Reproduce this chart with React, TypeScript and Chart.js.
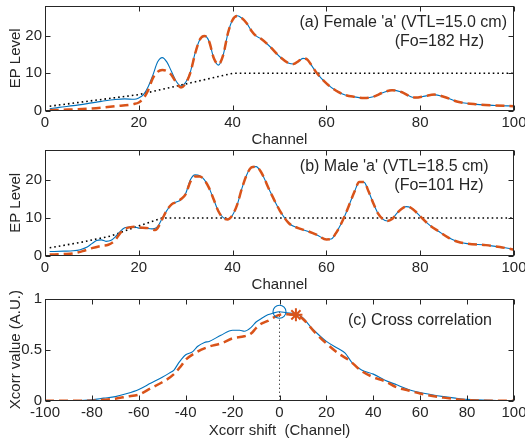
import React, { useEffect, useRef } from 'react';
import { Chart, registerables } from 'chart.js';

Chart.register(...registerables);

const FONT_FAMILY = '"Liberation Sans", Arial, Helvetica, sans-serif';
const INK = '#262626';
const BLUE = '#0072BD';
const ORANGE = '#D95319';

// ---------- Panel (a) Female 'a' ----------
const aSolidCh = [1, 3, 6, 9, 12, 15, 17, 19, 20, 21, 22, 23, 24, 25, 26, 27, 28, 29, 30, 31, 32, 33, 34, 35, 36, 37, 38, 39, 40, 41, 42, 43, 44, 45, 46, 48, 50, 52, 53, 54, 55, 56, 57, 58, 60, 62, 64, 66, 68, 70, 72, 74, 76, 78, 79, 81, 83, 85, 88, 92, 96, 100];
const aSolidVal = [0.5, 0.9, 1.35, 1.9, 2.5, 3.0, 3.15, 3.05, 3.4, 4.3, 6.4, 9.5, 13, 14.2, 13, 10.4, 7.8, 6.6, 7.6, 10.4, 15.4, 19, 20, 18.5, 14, 12.2, 14.9, 20.7, 24.3, 25.4, 24.7, 23.4, 21.4, 20, 19.3, 17.1, 14.5, 12.7, 12.5, 13.2, 14, 13.6, 11.8, 10, 7.3, 5.4, 4.2, 3.7, 3.4, 3.75, 4.8, 5.5, 5.0, 3.75, 3.5, 3.9, 4.3, 3.75, 2.4, 1.7, 1.4, 1.25];
const aDashCh = [1, 5, 10, 15, 19, 20, 21, 22, 23, 24, 25, 26, 27, 28, 29, 30, 31, 32, 33, 34, 35, 36, 37, 38, 39, 40, 41, 42, 43, 44, 45, 46, 48, 50, 52, 53, 54, 55, 56, 57, 58, 60, 62, 64, 66, 68, 70, 72, 74, 76, 78, 79, 81, 83, 85, 88, 92, 96, 100];
const aDashVal = [0.1, 0.3, 0.6, 1.2, 1.8, 2.2, 3.3, 5.5, 8.7, 10.4, 10.9, 10.6, 9.5, 7.5, 6.2, 7.3, 10.2, 15.2, 19, 20, 18.5, 14, 12.4, 14.9, 20.7, 24.3, 25.3, 24.7, 23.4, 21.4, 20, 19.3, 17.1, 14.5, 12.7, 12.5, 13.2, 14, 13.6, 11.8, 10, 7.3, 5.4, 4.2, 3.7, 3.4, 3.75, 4.8, 5.5, 5.0, 3.75, 3.5, 3.9, 4.3, 3.75, 2.4, 1.7, 1.4, 1.2];
const aDotCh = [1, 20, 40, 100];
const aDotVal = [1.2, 4.3, 10, 10];

// ---------- Panel (b) Male 'a' ----------
const bSolidCh = [1, 4, 6, 7.5, 9, 10, 11, 12, 13, 14, 15, 16, 17, 18, 19, 20, 22, 23, 24, 25, 26, 27, 28, 29, 30, 31, 32, 33, 34, 35, 36, 37, 38, 39, 40, 41, 42, 43, 44, 45, 46, 48, 50, 52, 54, 56, 58, 60, 61, 62, 63, 64, 65, 66, 67, 68, 69, 70, 71, 72, 73, 74, 75, 76, 77, 78, 79, 80, 82, 84, 86, 88, 90, 94, 97, 100];
const bSolidVal = [1.1, 1.2, 1.3, 1.6, 2.3, 3.2, 4.0, 4.2, 3.8, 4.0, 5.0, 6.4, 7.4, 7.6, 7.6, 7.3, 7.2, 7.1, 7.7, 9.9, 12.0, 13.7, 14.2, 14.8, 16.5, 20.1, 21.4, 21.2, 20.1, 17.9, 14.8, 11.7, 10.1, 9.7, 10.8, 13.6, 17.9, 21.4, 23.4, 23.6, 22.3, 17, 12.1, 8.6, 7.3, 6.5, 5.5, 4.3, 4.4, 5.9, 8.1, 10.8, 13.9, 17, 19.5, 19.5, 17, 13.9, 11.2, 9.7, 9.2, 9.7, 11.2, 12.4, 13, 12.7, 11.7, 10.4, 8.1, 6.4, 4.8, 3.7, 3.2, 2.8, 2.3, 1.7];
const bDashCh = [1, 4, 6, 8, 10, 12, 13.5, 14.5, 15, 16, 17, 18, 19, 20, 22, 23, 23.5, 24, 25, 26, 27, 28, 29, 30, 31, 32, 33, 34, 35, 36, 37, 38, 39, 40, 41, 42, 43, 44, 45, 46, 48, 50, 52, 54, 56, 58, 60, 61, 62, 63, 64, 65, 66, 67, 68, 69, 70, 71, 72, 73, 74, 75, 76, 77, 78, 79, 80, 82, 84, 86, 88, 90, 94, 97, 100];
const bDashVal = [0.3, 0.45, 0.6, 1.2, 2.0, 2.6, 2.9, 3.6, 4.2, 5.9, 7.1, 7.5, 7.7, 7.5, 7.3, 6.9, 6.8, 7.3, 9.7, 12.1, 13.6, 14.2, 15.0, 16.3, 19.6, 21.0, 21.0, 20.0, 17.9, 14.8, 11.7, 10.0, 9.6, 10.8, 13.6, 17.9, 21.4, 23.4, 23.6, 22.3, 17, 12.1, 8.6, 7.3, 6.5, 5.5, 4.3, 4.4, 5.9, 8.1, 10.8, 13.9, 17, 19.5, 19.5, 17, 13.9, 11.2, 9.7, 9.2, 9.7, 11.2, 12.4, 13, 12.7, 11.7, 10.4, 8.1, 6.4, 4.8, 3.7, 3.2, 2.8, 2.3, 1.6];
const bDotCh = [1, 7.5, 14, 20, 25, 100];
const bDotVal = [2.1, 3.5, 5.2, 7.9, 10, 10];

// ---------- Panel (c) Cross correlation ----------
const cSolidShift = [-100, -90, -80, -75, -70, -65, -60, -55, -50, -47, -45, -43, -42, -40, -37, -35, -32, -30, -25, -20, -17, -15, -12, -10, -8, -5, -3, 0, 3, 6, 8, 10, 13, 16, 20, 25, 28, 31, 35, 40, 45, 50, 55, 60, 65, 70, 75, 80, 90, 100];
const cSolidVal = [0, 0, 0.01, 0.025, 0.04, 0.07, 0.11, 0.17, 0.23, 0.27, 0.3, 0.37, 0.4, 0.45, 0.48, 0.53, 0.57, 0.58, 0.64, 0.69, 0.69, 0.68, 0.72, 0.77, 0.8, 0.84, 0.855, 0.87, 0.86, 0.855, 0.84, 0.81, 0.73, 0.66, 0.58, 0.51, 0.465, 0.37, 0.3, 0.26, 0.2, 0.155, 0.11, 0.08, 0.058, 0.04, 0.025, 0.013, 0.003, 0];
const cDashShift = [-100, -80, -75, -70, -65, -60, -55, -50, -45, -42, -40, -35, -30, -25, -20, -15, -12, -10, -8, -5, -2, 0, 3, 7, 10, 15, 20, 25, 30, 35, 40, 45, 50, 55, 60, 70, 80, 90, 100];
const cDashVal = [0, 0, 0.01, 0.02, 0.04, 0.06, 0.12, 0.18, 0.26, 0.34, 0.4, 0.48, 0.53, 0.56, 0.61, 0.63, 0.66, 0.71, 0.75, 0.78, 0.82, 0.84, 0.845, 0.84, 0.8, 0.67, 0.56, 0.465, 0.39, 0.29, 0.23, 0.19, 0.13, 0.1, 0.07, 0.03, 0.006, 0, 0];
const cPeakSolid = { x: 0, y: 0.87 };
const cPeakDash = { x: 7, y: 0.84 };

// ---------- Ticks / labels ----------
const channelTicks = [0, 20, 40, 60, 80, 100];
const epTicks = [0, 10, 20];
const shiftTicks = [-100, -80, -60, -40, -20, 0, 20, 40, 60, 80, 100];
const xcorrTicks = [0, 0.5, 1];

const zip = (xs: number[], ys: number[]) => xs.map((x, i) => ({ x, y: ys[i] }));

type Txt = { text: string; dx: number; dy: number };

function makeFrame(xTicks: number[], yTicks: number[], texts: Txt[]) {
  return {
    id: 'matlabFrame',
    afterDraw(chart: any) {
      const { ctx, chartArea: a, scales } = chart;
      ctx.save();
      ctx.strokeStyle = INK;
      ctx.lineWidth = 1;
      const L = Math.round(a.left) + 0.5;
      const R = Math.round(a.right) - 0.5;
      const T = Math.round(a.top) + 0.5;
      const B = Math.round(a.bottom) - 0.5;
      ctx.strokeRect(L, T, R - L, B - T);
      ctx.beginPath();
      for (const v of xTicks) {
        const p = Math.round(scales.x.getPixelForValue(v)) + 0.5;
        ctx.moveTo(p, B); ctx.lineTo(p, B - 5);
        ctx.moveTo(p, T); ctx.lineTo(p, T + 5);
      }
      for (const v of yTicks) {
        const p = Math.round(scales.y.getPixelForValue(v)) + 0.5;
        ctx.moveTo(L, p); ctx.lineTo(L + 5, p);
        ctx.moveTo(R, p); ctx.lineTo(R - 5, p);
      }
      ctx.stroke();
      ctx.fillStyle = INK;
      ctx.font = `16px ${FONT_FAMILY}`;
      ctx.textAlign = 'right';
      ctx.textBaseline = 'middle';
      for (const t of texts) ctx.fillText(t.text, a.right - t.dx, a.top + t.dy);
      ctx.restore();
    },
  };
}

const tickFont = { family: FONT_FAMILY, size: 15 };

function buildConfig(o: {
  datasets: any[]; xMin: number; xMax: number; yMin: number; yMax: number;
  xTicks: number[]; yTicks: number[]; xTitle: string; yTitle: string;
  padTop: number; xAxisH: number; xTickPad: number; xTitlePadB: number; texts: Txt[];
}) {
  return {
    type: 'line',
    data: { datasets: o.datasets },
    options: {
      responsive: false,
      animation: false,
      events: [],
      layout: { padding: { top: o.padTop, right: 11, left: 0, bottom: 0 } },
      plugins: { legend: { display: false }, tooltip: { enabled: false } },
      scales: {
        x: {
          type: 'linear', min: o.xMin, max: o.xMax,
          afterBuildTicks: (s: any) => { s.ticks = o.xTicks.map((v) => ({ value: v })); },
          afterFit: (s: any) => { s.height = o.xAxisH; s.paddingLeft = 0; s.paddingRight = 0; },
          grid: { display: false, drawTicks: false },
          border: { display: false },
          ticks: { font: tickFont, color: INK, padding: o.xTickPad, maxRotation: 0, autoSkip: false, callback: (v: any) => String(v) },
          title: { display: true, text: o.xTitle, color: INK, font: tickFont, padding: { top: 0, bottom: o.xTitlePadB } },
        },
        y: {
          type: 'linear', min: o.yMin, max: o.yMax,
          afterBuildTicks: (s: any) => { s.ticks = o.yTicks.map((v) => ({ value: v })); },
          afterFit: (s: any) => { s.width = 45; s.paddingTop = 0; s.paddingBottom = 0; },
          grid: { display: false, drawTicks: false },
          border: { display: false },
          ticks: { font: tickFont, color: INK, padding: 3, autoSkip: false, callback: (v: any) => String(v) },
          title: { display: true, text: o.yTitle, color: INK, font: tickFont, padding: { top: 6.5, bottom: 0 } },
        },
      },
    },
    plugins: [makeFrame(o.xTicks, o.yTicks, o.texts)],
  };
}

const lineBase = { pointRadius: 0, fill: false, cubicInterpolationMode: 'monotone' };

function epDatasets(dash: any[], solid: any[], dot: any[]) {
  return [
    { ...lineBase, data: dash, borderColor: ORANGE, borderWidth: 2.5, borderDash: [9, 5] },
    { ...lineBase, data: solid, borderColor: BLUE, borderWidth: 1.1 },
    { ...lineBase, data: dot, borderColor: '#000000', borderWidth: 1.6, borderDash: [1.6, 3], cubicInterpolationMode: 'default', tension: 0 },
  ];
}

const configA = buildConfig({
  datasets: epDatasets(zip(aDashCh, aDashVal), zip(aSolidCh, aSolidVal), zip(aDotCh, aDotVal)),
  xMin: 0, xMax: 100, yMin: 0, yMax: 28, xTicks: channelTicks, yTicks: epTicks,
  xTitle: 'Channel', yTitle: 'EP Level', padTop: 6, xAxisH: 39.3, xTickPad: 3, xTitlePadB: 1.5,
  texts: [
    { text: "(a) Female 'a' (VTL=15.0 cm)", dx: 7, dy: 16.7 },
    { text: '(Fo=182 Hz)', dx: 30, dy: 35.7 },
  ],
});

const configB = buildConfig({
  datasets: epDatasets(zip(bDashCh, bDashVal), zip(bSolidCh, bSolidVal), zip(bDotCh, bDotVal)),
  xMin: 0, xMax: 100, yMin: 0, yMax: 28, xTicks: channelTicks, yTicks: epTicks,
  xTitle: 'Channel', yTitle: 'EP Level', padTop: 5, xAxisH: 39.3, xTickPad: 3, xTitlePadB: 1.5,
  texts: [
    { text: "(b) Male 'a' (VTL=18.5 cm)", dx: 25.3, dy: 16.7 },
    { text: '(Fo=101 Hz)', dx: 30.3, dy: 35.7 },
  ],
});

const configC = buildConfig({
  datasets: [
    { data: [cPeakSolid], showLine: false, pointStyle: 'circle', pointRadius: 6.5, pointBorderColor: BLUE, pointBackgroundColor: 'rgba(0,0,0,0)', pointBorderWidth: 1.1 },
    { data: [cPeakDash], showLine: false, pointStyle: 'star', pointRadius: 6.5, pointBorderColor: ORANGE, pointBackgroundColor: ORANGE, pointBorderWidth: 2 },
    { ...lineBase, data: zip(cDashShift, cDashVal), borderColor: ORANGE, borderWidth: 2.5, borderDash: [9, 5] },
    { ...lineBase, data: zip(cSolidShift, cSolidVal), borderColor: BLUE, borderWidth: 1.1 },
    { ...lineBase, data: [{ x: cPeakSolid.x, y: 0 }, cPeakSolid], borderColor: '#000000', borderWidth: 1, borderDash: [1, 3], cubicInterpolationMode: 'default', tension: 0 },
  ],
  xMin: -100, xMax: 100, yMin: 0, yMax: 1, xTicks: shiftTicks, yTicks: xcorrTicks,
  xTitle: 'Xcorr shift  (Channel)', yTitle: 'Xcorr value (A.U.)', padTop: 5, xAxisH: 40.3, xTickPad: 3.6, xTitlePadB: 1.5,
  texts: [{ text: '(c) Cross correlation', dx: 22, dy: 22.3 }],
});

function Panel({ top, height, config }: { top: number; height: number; config: any }) {
  const ref = useRef<HTMLCanvasElement>(null);
  useEffect(() => {
    const chart = new Chart(ref.current as HTMLCanvasElement, config);
    return () => chart.destroy();
  }, [config]);
  return (
    <canvas
      ref={ref}
      width={525}
      height={height}
      style={{ position: 'absolute', left: 0, top, width: 525, height, display: 'block' }}
    />
  );
}

export default function App() {
  return (
    <div style={{ position: 'absolute', left: 0, top: 0, width: 525, height: 441, background: '#ffffff' }}>
      <Panel top={0} height={150} config={configA} />
      <Panel top={145} height={150} config={configB} />
      <Panel top={290} height={151} config={configC} />
    </div>
  );
}
